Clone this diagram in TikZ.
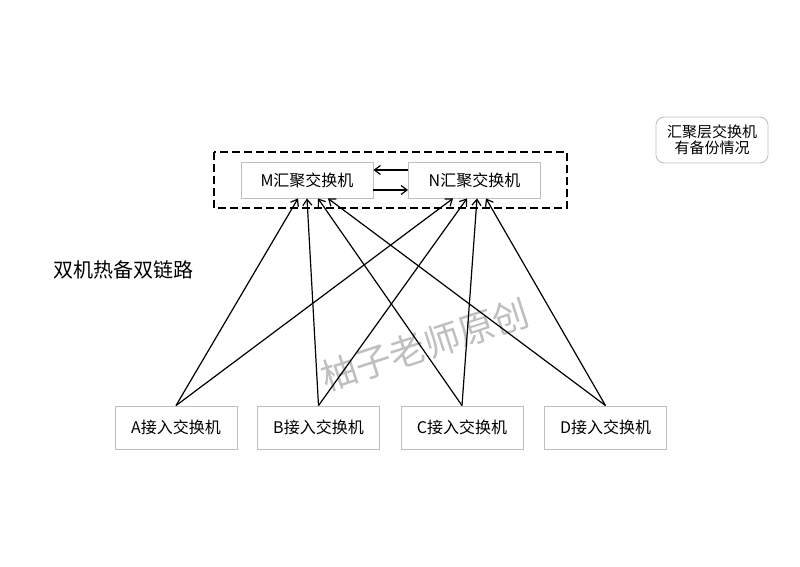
\documentclass[tikz,border=0pt]{standalone}
\usepackage{fontspec}
\setmainfont{Noto Sans CJK SC}
\usetikzlibrary{arrows.meta,calc}
\tikzset{
  switchbox/.style={draw=black!25, line width=0.9pt, minimum height=36pt, minimum width=132pt,
    inner sep=0pt, font=\fontsize{16}{19}\selectfont},
  accessbox/.style={switchbox, minimum height=43pt, minimum width=122pt},
  link/.style={-{Straight Barb[length=6pt,width=9pt]}, line width=1.2pt},
}
\begin{document}
\begin{tikzpicture}[x=1pt, y=1pt]
    \useasboundingbox (0,0) rectangle (800,566);
    % watermark
    \node[text=black!25, rotate=18, font=\fontsize{36}{40}\selectfont] (mark) at (425,221) {柚子老师原创};
    % aggregation layer
    \draw[line width=1.5pt, dash pattern=on 8pt off 4pt] (214,414) rectangle (567,358);
    \node[switchbox] (M) at (307,386) {M汇聚交换机};
    \node[switchbox] (N) at (474.5,386) {N汇聚交换机};
    \draw[link] ($(N.west)+(0,10)$) -- ($(M.east)+(0,10)$);
    \draw[link] ($(M.east)+(0,-10)$) -- ($(N.west)+(0,-10)$);
    % access layer
    \node[accessbox] (A) at (176,138.5) {A接入交换机};
    \node[accessbox] (B) at (318.5,138.5) {B接入交换机};
    \node[accessbox] (C) at (462,138.5) {C接入交换机};
    \node[accessbox] (D) at (605.5,138.5) {D接入交换机};
    % uplinks
    \draw[link] (A.north) -- ([xshift=-9pt]M.south);
    \draw[link] (A.north) -- ([xshift=-21.5pt]N.south);
    \draw[link] (B.north) -- (M.south);
    \draw[link] (B.north) -- ([xshift=-7.5pt]N.south);
    \draw[link] (C.north) -- ([xshift=11pt]M.south);
    \draw[link] (C.north) -- ([xshift=2.5pt]N.south);
    \draw[link] (D.north) -- ([xshift=21pt]M.south);
    \draw[link] (D.north) -- ([xshift=11.5pt]N.south);
    % labels
    \node[font=\fontsize{20}{24}\selectfont] (title) at (123,296) {双机热备双链路};
    \node[draw=black!25, line width=0.9pt, rounded corners=8pt, minimum width=112pt, minimum height=46pt,
      inner sep=0pt, align=center, font=\fontsize{15}{16}\selectfont] (note) at (712,426) {汇聚层交换机\\有备份情况};
\end{tikzpicture}
\end{document}
